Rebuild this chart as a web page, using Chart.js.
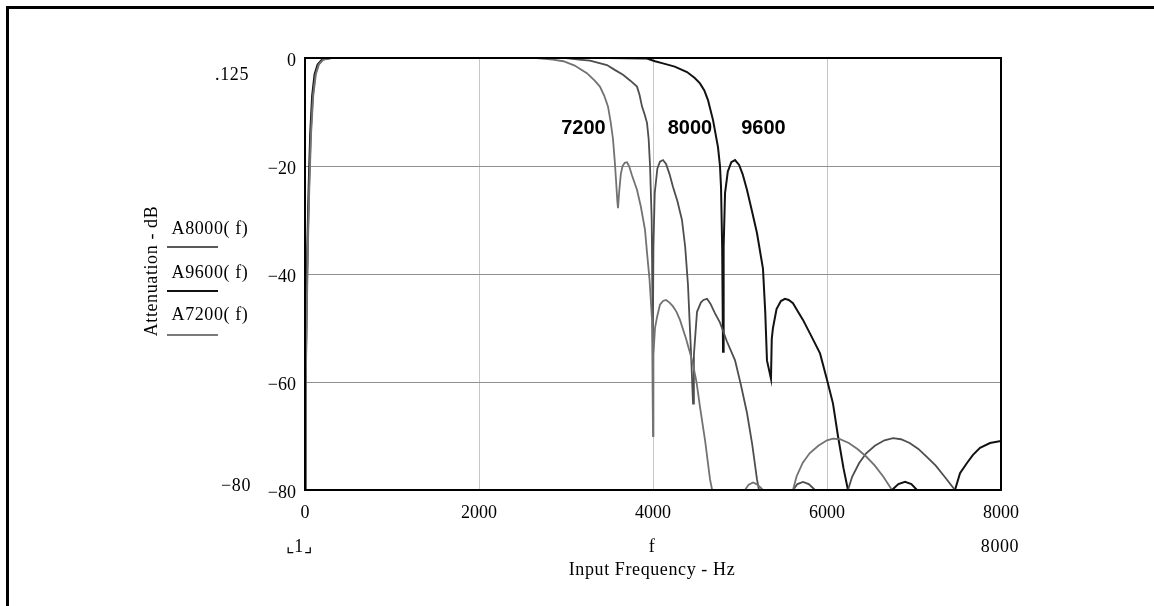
<!DOCTYPE html>
<html>
<head>
<meta charset="utf-8">
<title>Anti-alias filter attenuation</title>
<script src="https://cdn.jsdelivr.net/npm/chart.js@4.4.1/dist/chart.umd.min.js"></script>
<style>
    html, body { margin: 0; padding: 0; background: #fff; }
    #wrap { position: relative; width: 1154px; height: 606px; overflow: hidden; }
    #frame { position: absolute; left: 6px; top: 6px; right: -10px; bottom: -10px;
             border-left: 3px solid #000; border-top: 3px solid #000; }
    canvas { position: absolute; left: 0; top: 0; }
    .lbl { position: absolute; font-family: 'Liberation Serif', 'Times New Roman', serif;
           font-size: 18px; letter-spacing: 0.6px; color: #000; white-space: nowrap;
           transform: translate(-50%, -50%); }
    .rt { transform: translate(-100%, -50%); }
    .rot { transform: translate(-50%, -50%) rotate(-90deg); }
    .key { position: absolute; height: 2px; width: 51px; left: 167px; }
</style>
</head>
<body>
<div id="wrap">
    <div id="frame"></div>
    <canvas id="canvas" width="1154" height="606"></canvas>

    <div class="lbl rt" style="left:249px; top:74px;">.125</div>
    <div class="lbl rt" style="left:251px; top:485px;">&minus;80</div>
    <div class="lbl rot" style="left:151px; top:271px;">Attenuation - dB</div>

    <div class="lbl" style="left:210px; top:228px;">A8000( f)</div>
    <div class="key" style="top:246px; background:#5a5a5a;"></div>
    <div class="lbl" style="left:210px; top:272px;">A9600( f)</div>
    <div class="key" style="top:290px; background:#111;"></div>
    <div class="lbl" style="left:210px; top:314px;">A7200( f)</div>
    <div class="key" style="top:334px; background:#7a7a7a;"></div>

    <div class="lbl" style="left:299px; top:546px;">&#8990;1&#8991;</div>
    <div class="lbl" style="left:652px; top:546px;">f</div>
    <div class="lbl" style="left:1000px; top:546px;">8000</div>
    <div class="lbl" style="left:652px; top:569px;">Input Frequency - Hz</div>
</div>

<script>
// values: frequency in Hz, attenuation in dB
const freq7200 = [0, 8, 20, 35, 50, 70, 95, 125, 160, 210, 300, 2660, 2850, 2970, 3100, 3240, 3330, 3390, 3440, 3483,
    3515, 3540, 3560, 3575, 3590, 3598, 3610, 3630, 3650, 3675, 3701, 3725, 3760, 3816, 3860, 3908, 3931, 3960, 3989,
    4000, 4005, 4023, 4046, 4080, 4115, 4150, 4190, 4230, 4270, 4310, 4380, 4450, 4500, 4540, 4600, 4655, 4680, 5057,
    5100, 5150, 5200, 5264, 5609, 5650, 5720, 5800, 5900, 6000, 6069, 6150, 6250, 6350, 6450, 6550, 6650, 6747, 8000];
const db7200 = [-80, -62, -48, -34, -24, -14, -7, -3, -1.2, -0.3, 0, 0, -0.3, -0.6, -1.4, -2.8, -4.2, -5.3, -7, -9,
    -12, -15, -19, -22.6, -26.5, -27.8, -25, -21.5, -20, -19.4, -19.3, -20, -21.8, -24.4, -27.5, -31.8, -36, -41, -48.5,
    -70, -55, -50, -48, -45.7, -45, -44.8, -45.3, -46, -47, -48.5, -52, -56, -60, -64.6, -71, -78, -80, -80,
    -79, -78.6, -79, -80, -80, -77.5, -75, -73.2, -71.8, -70.8, -70.5, -70.6, -71.3, -72.4, -73.8, -75.5, -77.6, -80, -80];

const freq8000 = [0, 7, 18, 32, 47, 66, 90, 120, 155, 205, 300, 3000, 3150, 3276, 3471, 3560, 3655, 3740, 3816, 3845,
    3874, 3905, 3931, 3950, 3966, 3985, 3998, 4005, 4020, 4050, 4080, 4115, 4150, 4190, 4230, 4280, 4333, 4370, 4402,
    4437, 4460, 4470, 4506, 4550, 4580, 4621, 4660, 4710, 4770, 4850, 4943, 5010, 5080, 5140, 5195, 5218, 5609, 5660,
    5724, 5790, 5862, 6241, 6290, 6370, 6450, 6550, 6660, 6759, 6850, 6950, 7050, 7150, 7250, 7350, 7471, 8000];
const db8000 = [-80, -62, -48, -34, -24, -14, -7, -3, -1.2, -0.3, 0, 0, -0.3, -0.5, -1.3, -2.2, -3.1, -4.2, -5.3, -6.8,
    -9, -10.5, -12, -15, -20, -30, -52.6, -35, -25, -20.5, -19.2, -18.9, -19.6, -21.5, -23.9, -26.5, -30, -35, -42,
    -54.6, -64, -55, -47, -45.3, -44.8, -44.6, -45.5, -47.2, -49, -52.5, -56, -60.5, -65.7, -71.5, -78, -80, -80, -78.9,
    -78.5, -78.9, -80, -80, -77.5, -75, -73.2, -71.8, -70.8, -70.4, -70.6, -71.3, -72.4, -73.9, -75.5, -77.5, -80, -80];

const freq9600 = [0, 6, 15, 28, 42, 60, 82, 110, 145, 195, 280, 3500, 3931, 4023, 4115, 4250, 4391, 4480, 4540, 4590,
    4632, 4690, 4747, 4770, 4782, 4795, 4805, 4812, 4828, 4860, 4900, 4943, 4990, 5030, 5080, 5140, 5195, 5264, 5290,
    5310, 5356, 5365, 5379, 5420, 5470, 5517, 5560, 5609, 5660, 5724, 5820, 5920, 6000, 6069, 6126, 6190, 6241, 6747,
    6820, 6897, 6970, 7034, 7471, 7529, 7609, 7678, 7759, 7874, 8000];
const db9600 = [-80, -62, -48, -34, -24, -14, -7, -3, -1.2, -0.3, 0, 0, -0.1, -0.6, -1, -1.6, -2.6, -3.7, -4.7, -6,
    -7.8, -11.5, -16.5, -20, -24, -35, -54.4, -35, -25, -21, -19.3, -18.9, -19.8, -21.5, -24.4, -28.5, -32.4, -39, -47,
    -56, -59.4, -52, -50, -46.5, -45, -44.6, -44.8, -45.4, -46.8, -48.5, -51.5, -54.7, -59.6, -64, -70, -76, -80, -80,
    -78.9, -78.5, -78.9, -80, -80, -76.9, -75, -73.5, -72.2, -71.3, -70.9];

const xTicks = [0, 2000, 4000, 6000, 8000];
const yTicks = [0, -20, -40, -60, -80];

// curve names written inside the plot, anchored in data units
const curveNames = ['7200', '8000', '9600'];
const curveNameFreqs = [3200, 4425, 5270];
const curveNameDb = [-13.1, -13.1, -13.1];

const serif = "'Liberation Serif', 'Times New Roman', serif";

const toPoints = (freqs, dbs) => freqs.map((f, i) => ({ x: f, y: dbs[i] }));

const framePlugin = {
    id: 'frame',
    afterDatasetsDraw(chart) {
        const { ctx, chartArea } = chart;
        ctx.save();
        ctx.strokeStyle = '#000';
        ctx.lineWidth = 2;
        ctx.strokeRect(chartArea.left, chartArea.top, chartArea.right - chartArea.left, chartArea.bottom - chartArea.top);
        ctx.restore();
    },
    afterDraw(chart) {
        const { ctx } = chart;
        const xs = chart.scales.x;
        const ys = chart.scales.y;
        ctx.save();
        ctx.font = "bold 20px 'Liberation Sans', Arial, sans-serif";
        ctx.fillStyle = '#000';
        ctx.textAlign = 'center';
        ctx.textBaseline = 'middle';
        curveNames.forEach((name, i) => {
            ctx.fillText(name, xs.getPixelForValue(curveNameFreqs[i]), ys.getPixelForValue(curveNameDb[i]));
        });
        ctx.restore();
    },
};

const line = (label, freqs, dbs, color, width) => ({
    label: label,
    data: toPoints(freqs, dbs),
    borderColor: color,
    borderWidth: width,
    pointRadius: 0,
    tension: 0,
    fill: false,
});

new Chart(document.getElementById('canvas'), {
    type: 'line',
    data: {
        datasets: [
            line('A7200(f)', freq7200, db7200, '#727272', 1.8),
            line('A8000(f)', freq8000, db8000, '#4e4e4e', 1.8),
            line('A9600(f)', freq9600, db9600, '#121212', 2),
        ],
    },
    options: {
        responsive: false,
        animation: false,
        layout: { padding: { left: 0, right: 153, top: 58, bottom: 0 } },
        plugins: { legend: { display: false }, tooltip: { enabled: false } },
        scales: {
            x: {
                type: 'linear',
                min: 0,
                max: 8000,
                afterBuildTicks: (scale) => { scale.ticks = xTicks.map((v) => ({ value: v })); },
                afterFit: (scale) => { scale.height = 116; },
                grid: { color: '#c6c6c6', lineWidth: 1, drawTicks: false },
                border: { display: false },
                ticks: {
                    padding: 12,
                    color: '#000',
                    font: { family: serif, size: 18 },
                    maxRotation: 0,
                    callback: (value) => String(value),
                },
            },
            y: {
                min: -80,
                max: 0,
                afterBuildTicks: (scale) => { scale.ticks = yTicks.map((v) => ({ value: v })); },
                afterFit: (scale) => { scale.width = 305; },
                grid: { color: '#909090', lineWidth: 1, drawTicks: false },
                border: { display: false },
                ticks: {
                    padding: 9,
                    labelOffset: 3,
                    color: '#000',
                    font: { family: serif, size: 18 },
                    callback: (value) => (value === 0 ? '0' : '\u2212' + Math.abs(value)),
                },
            },
        },
    },
    plugins: [framePlugin],
});
</script>
</body>
</html>
